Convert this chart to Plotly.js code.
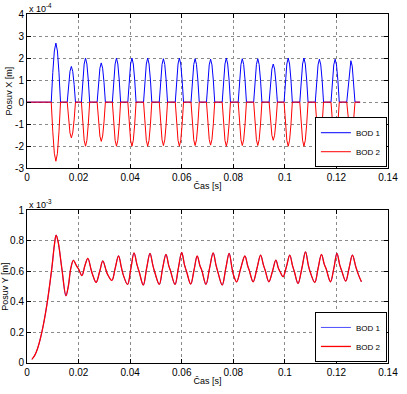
<!DOCTYPE html>
<html>
<head>
<meta charset="utf-8">
<script src="https://cdn.plot.ly/plotly-3.0.1.min.js"></script>
<style>html,body{margin:0;padding:0;background:#fff;}#chart{width:407px;height:394px;}</style>
</head>
<body>
<div id="chart"></div>
<script>
// ---- Data (top: Posuv X, units of 1e-4 m; bottom: Posuv Y, units of 1e-3 m) ----
const seriesNames = ["BOD 1", "BOD 2"];
const xTicks = [0, 0.02, 0.04, 0.06, 0.08, 0.1, 0.12, 0.14];
const yTicksX = [-3, -2, -1, 0, 1, 2, 3, 4];
const yTicksY = [0, 0.2, 0.4, 0.6, 0.8, 1];

const tX = [0,
 0.0094,0.0100,0.0106,0.0112,0.0118,0.0124,0.0130,
 0.0156,0.01613,0.01667,0.0172,0.01773,0.01827,0.0188,
 0.0211,0.02163,0.02217,0.0227,0.02323,0.02377,0.0243,
 0.0272,0.02773,0.02827,0.0288,0.02933,0.02987,0.0304,
 0.0331,0.03363,0.03417,0.0347,0.03523,0.03577,0.0363,
 0.0391,0.03963,0.04017,0.0407,0.04123,0.04177,0.0423,
 0.0452,0.04573,0.04627,0.0468,0.04733,0.04787,0.0484,
 0.0513,0.05183,0.05237,0.0529,0.05343,0.05397,0.0545,
 0.0575,0.05803,0.05857,0.0591,0.05963,0.06017,0.0607,
 0.0636,0.06413,0.06467,0.0652,0.06573,0.06627,0.0668,
 0.0696,0.07013,0.07067,0.0712,0.07173,0.07227,0.0728,
 0.0757,0.07623,0.07677,0.0773,0.07783,0.07837,0.0789,
 0.0819,0.08243,0.08297,0.0835,0.08403,0.08457,0.0851,
 0.0879,0.08843,0.08897,0.0895,0.09003,0.09057,0.0911,
 0.0939,0.09443,0.09497,0.0955,0.09603,0.09657,0.0971,
 0.0997,0.10023,0.10077,0.1013,0.10183,0.10237,0.1029,
 0.1058,0.10633,0.10687,0.1074,0.10793,0.10847,0.1090,
 0.1118,0.11233,0.11287,0.1134,0.11393,0.11447,0.1150,
 0.1179,0.11843,0.11897,0.1195,0.12003,0.12057,0.1211,
 0.1240,0.12493,0.12547,0.1256,0.12613,0.12667,0.1272,
 0.1292];

const posX1 = [0,
 0,1.34,2.32,2.68,2.32,1.34,0,
 0,0.81,1.40,1.62,1.40,0.81,0,
 0,1.00,1.73,2.00,1.73,1.00,0,
 0,0.89,1.54,1.78,1.54,0.89,0,
 0,1.00,1.73,2.00,1.73,1.00,0,
 0,1.00,1.73,2.00,1.73,1.00,0,
 0,1.00,1.73,2.00,1.73,1.00,0,
 0,0.99,1.71,1.97,1.71,0.99,0,
 0,1.00,1.73,2.00,1.73,1.00,0,
 0,0.99,1.71,1.97,1.71,0.99,0,
 0,0.98,1.69,1.95,1.69,0.98,0,
 0,1.00,1.73,2.00,1.73,1.00,0,
 0,0.99,1.71,1.97,1.71,0.99,0,
 0,0.99,1.71,1.97,1.71,0.99,0,
 0,0.87,1.50,1.73,1.50,0.87,0,
 0,1.00,1.73,2.00,1.73,1.00,0,
 0,1.00,1.73,2.00,1.73,1.00,0,
 0,0.98,1.69,1.95,1.69,0.98,0,
 0,0.98,1.69,1.95,1.69,0.98,0,
 0,0.94,1.63,1.88,1.63,0.94,0,
 0];

const posX2 = [0,
 0,-1.34,-2.32,-2.68,-2.32,-1.34,0,
 0,-0.81,-1.40,-1.62,-1.40,-0.81,0,
 0,-1.00,-1.73,-2.00,-1.73,-1.00,0,
 0,-0.89,-1.54,-1.78,-1.54,-0.89,0,
 0,-1.00,-1.73,-2.00,-1.73,-1.00,0,
 0,-1.00,-1.73,-2.00,-1.73,-1.00,0,
 0,-1.00,-1.73,-2.00,-1.73,-1.00,0,
 0,-0.99,-1.71,-1.97,-1.71,-0.99,0,
 0,-1.00,-1.73,-2.00,-1.73,-1.00,0,
 0,-0.99,-1.71,-1.97,-1.71,-0.99,0,
 0,-0.98,-1.69,-1.95,-1.69,-0.98,0,
 0,-1.00,-1.73,-2.00,-1.73,-1.00,0,
 0,-0.99,-1.71,-1.97,-1.71,-0.99,0,
 0,-0.99,-1.71,-1.97,-1.71,-0.99,0,
 0,-0.87,-1.50,-1.73,-1.50,-0.87,0,
 0,-1.00,-1.73,-2.00,-1.73,-1.00,0,
 0,-1.00,-1.73,-2.00,-1.73,-1.00,0,
 0,-0.98,-1.69,-1.95,-1.69,-0.98,0,
 0,-0.98,-1.69,-1.95,-1.69,-0.98,0,
 0,-0.94,-1.63,-1.88,-1.63,-0.94,0,
 0];

const tY = [0.0019,0.0030,0.0042,0.0058,0.0077,0.0097,0.0106,0.0113,0.0121,0.0135,
 0.0151,0.0160,0.0170,0.0180,0.0192,0.0200,0.0213,0.0225,0.0236,0.0248,
 0.0254,0.0268,0.0282,0.0294,0.0306,0.0313,0.0329,0.0342,0.0355,0.0366,
 0.0373,0.0390,0.0403,0.0415,0.0427,0.0435,0.0451,0.0464,0.0477,0.0488,
 0.0495,0.0513,0.0526,0.0539,0.0550,0.0556,0.0574,0.0587,0.0600,0.0611,
 0.0619,0.0635,0.0648,0.0660,0.0671,0.0678,0.0694,0.0708,0.0722,0.0733,
 0.0740,0.0757,0.0771,0.0784,0.0795,0.0801,0.0813,0.0829,0.0845,0.0856,
 0.0862,0.0877,0.0892,0.0906,0.0917,0.0924,0.0938,0.0952,0.0965,0.0975,
 0.0982,0.0993,0.1006,0.1019,0.1030,0.1037,0.1051,0.1066,0.1080,0.1091,
 0.1098,0.1116,0.1129,0.1142,0.1153,0.1160,0.1177,0.1190,0.1202,0.1213,
 0.1220,0.1236,0.1249,0.1262,0.1275,0.1286,0.1297];

const posY = [0.024,0.05,0.10,0.205,0.38,0.63,0.77,0.837,0.79,0.62,
 0.44,0.50,0.62,0.672,0.635,0.615,0.572,0.64,0.684,0.615,
 0.580,0.527,0.60,0.668,0.610,0.578,0.54,0.62,0.701,0.625,
 0.578,0.514,0.62,0.72,0.64,0.597,0.51,0.62,0.717,0.64,
 0.597,0.514,0.62,0.71,0.635,0.606,0.514,0.62,0.723,0.64,
 0.597,0.516,0.61,0.70,0.635,0.606,0.514,0.62,0.72,0.64,
 0.597,0.51,0.62,0.717,0.62,0.575,0.531,0.62,0.70,0.635,
 0.606,0.531,0.62,0.706,0.64,0.605,0.531,0.60,0.673,0.62,
 0.595,0.564,0.63,0.706,0.635,0.597,0.52,0.62,0.727,0.64,
 0.597,0.527,0.62,0.71,0.645,0.617,0.531,0.62,0.717,0.64,
 0.606,0.536,0.62,0.706,0.63,0.575,0.531];

// ---- Styles ----
const FONT = "Liberation Sans, Arial, sans-serif";
const BLUE = "#0000ff", RED = "#ff0000";

const traces = [
  {x: tX, y: posX1, name: seriesNames[0], type: "scatter", mode: "lines",
   line: {color: BLUE, width: 1}, xaxis: "x", yaxis: "y", legend: "legend"},
  {x: tX, y: posX2, name: seriesNames[1], type: "scatter", mode: "lines",
   line: {color: RED, width: 1}, xaxis: "x", yaxis: "y", legend: "legend"},
  {x: tY, y: posY, name: seriesNames[0], type: "scatter", mode: "lines",
   line: {color: BLUE, width: 0.7, shape: "spline"}, xaxis: "x2", yaxis: "y2", legend: "legend2"},
  {x: tY, y: posY, name: seriesNames[1], type: "scatter", mode: "lines",
   line: {color: RED, width: 1.3, shape: "spline"}, xaxis: "x2", yaxis: "y2", legend: "legend2"}
];

function xAxis(anchor) {
  return {
    anchor: anchor, domain: [0, 1], range: [0, 0.14], tickvals: xTicks,
    ticktext: xTicks.map(v => String(v)),
    ticks: "inside", ticklen: 4, tickcolor: "#000", showline: true, linecolor: "#000", linewidth: 1,
    mirror: "ticks", showgrid: true, gridcolor: "#8a8a8a", griddash: "dot", gridwidth: 1,
    zeroline: false, tickfont: {family: FONT, size: 10, color: "#000"},
    title: {text: "Čas [s]", font: {family: FONT, size: 9, color: "#000"}, standoff: 0},
    automargin: false
  };
}
function yAxis(anchor, domain, range, ticks, title) {
  return {
    anchor: anchor, domain: domain, range: range, tickvals: ticks,
    ticktext: ticks.map(v => String(v)),
    ticks: "inside", ticklen: 4, tickcolor: "#000", showline: true, linecolor: "#000", linewidth: 1,
    mirror: "ticks", showgrid: true, gridcolor: "#8a8a8a", griddash: "dot", gridwidth: 1,
    zeroline: false, tickfont: {family: FONT, size: 10, color: "#000"},
    title: {text: title, font: {family: FONT, size: 9, color: "#000"}, standoff: 0},
    automargin: false
  };
}

const legendStyle = {
  bgcolor: "#fff", bordercolor: "#000", borderwidth: 1,
  font: {family: FONT, size: 8, color: "#000"}, tracegroupgap: 0, itemwidth: 30
};

const layout = {
  width: 407, height: 394,
  margin: {l: 27, r: 19, t: 14, b: 31},
  paper_bgcolor: "#fff", plot_bgcolor: "#fff",
  showlegend: true,
  xaxis: xAxis("y"),
  yaxis: yAxis("x", [0.558, 1], [-3, 4], yTicksX, "Posuv X [m]"),
  xaxis2: xAxis("y2"),
  yaxis2: yAxis("x2", [0, 0.438], [0, 1], yTicksY, "Posuv Y [m]"),
  legend: Object.assign({x: 0.997, xanchor: "right", y: 0.561, yanchor: "bottom"}, legendStyle),
  legend2: Object.assign({x: 0.997, xanchor: "right", y: 0.003, yanchor: "bottom"}, legendStyle),
  annotations: [
    {text: "x 10<sup>-4</sup>", xref: "paper", yref: "paper", x: 0, y: 1, xanchor: "left", yanchor: "bottom",
     showarrow: false, font: {family: FONT, size: 9, color: "#000"}, yshift: -2},
    {text: "x 10<sup>-3</sup>", xref: "paper", yref: "paper", x: 0, y: 0.438, xanchor: "left", yanchor: "bottom",
     showarrow: false, font: {family: FONT, size: 9, color: "#000"}, yshift: -2}
  ]
};

Plotly.newPlot("chart", traces, layout, {displayModeBar: false, staticPlot: true});
</script>
</body>
</html>
